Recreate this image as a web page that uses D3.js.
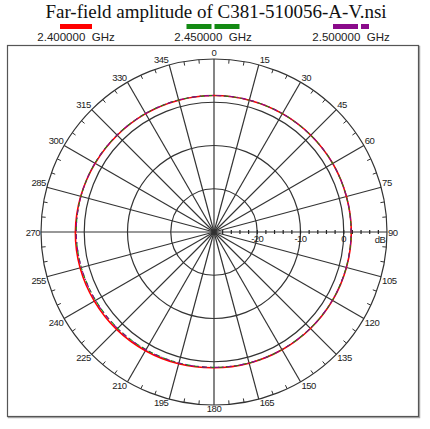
<!DOCTYPE html>
<html>
<head>
<meta charset="utf-8">
<script src="https://cdn.jsdelivr.net/npm/d3@7"></script>
<style>
  body { margin: 0; background: #fff; }
  svg { display: block; }
</style>
</head>
<body>
<div id="chart"></div>
<script>
// Data (dB, every 15 degrees)
const angles = [0, 15, 30, 45, 60, 75, 90, 105, 120, 135, 150, 165, 180, 195, 210, 225, 240, 255, 270, 285, 300, 315, 330, 345];
const freqLabels = ["2.400000  GHz", "2.450000  GHz", "2.500000  GHz"];
const gain2400 = [1.55, 1.55, 1.6, 1.65, 1.7, 1.7, 1.75, 1.7, 1.65, 1.55, 1.45, 1.4, 1.4, 1.55, 1.7, 1.85, 1.95, 2.05, 2.05, 1.9, 1.75, 1.65, 1.6, 1.55];
const gain2450 = [1.55, 1.55, 1.6, 1.65, 1.7, 1.7, 1.7, 1.65, 1.6, 1.5, 1.4, 1.35, 1.3, 1.35, 1.4, 1.5, 1.6, 1.75, 1.85, 1.85, 1.8, 1.7, 1.65, 1.6];
const gain2500 = [1.55, 1.6, 1.6, 1.65, 1.7, 1.7, 1.7, 1.65, 1.6, 1.5, 1.4, 1.35, 1.3, 1.35, 1.45, 1.55, 1.65, 1.75, 1.85, 1.85, 1.8, 1.7, 1.65, 1.6];
const dbTicks = [-20, -10, 0];
const dbCircles = [-20, -10, 0, 10];

const series = [
    { label: freqLabels[0], values: gain2400, color: "#ff0000", dash: null, legendDash: null, w: 1.6 },
    { label: freqLabels[1], values: gain2450, color: "#138a13", dash: "5,3", legendDash: "25,3", w: 1.1 },
    { label: freqLabels[2], values: gain2500, color: "#8a0a8a", dash: "5,3,1.5,3", legendDash: "25,3,8,3", w: 1.1 }
];

const width = 430, height = 429;
const cx = 214, cy = 232, R = 173;

const svg = d3.select("#chart")
    .append("svg")
    .attr("width", width)
    .attr("height", height);

// radial scale: -30 dB at centre, +10 dB at outer ring
const r = d3.scaleLinear().domain([-30, 10]).range([0, R]);
const rad = a => a * Math.PI / 180;

// frame with a little shadow
svg.append("rect")
    .attr("x", 8.5).attr("y", 46.5)
    .attr("width", 411).attr("height", 371)
    .attr("fill", "none").attr("stroke", "#aaa").attr("stroke-width", 1.5);
svg.append("rect")
    .attr("x", 7.5).attr("y", 45.5)
    .attr("width", 411).attr("height", 371)
    .attr("fill", "#fff").attr("stroke", "#555").attr("stroke-width", 1.2);

// title
svg.append("text")
    .attr("x", 216).attr("y", 18)
    .attr("text-anchor", "middle")
    .style("font-family", "'Liberation Serif', 'Times New Roman', serif")
    .style("font-size", "19px")
    .style("fill", "#111")
    .text("Far-field amplitude of C381-510056-A-V.nsi");

// legend
const legendX = [76, 213, 351];
const legend = svg.selectAll(".legend")
    .data(series)
    .join("g")
    .attr("class", "legend")
    .attr("transform", (d, i) => `translate(${legendX[i]},0)`);

const legendW = [32, 53, 36];
legend.append("line")
    .attr("x1", (d, i) => -legendW[i] / 2)
    .attr("x2", (d, i) => legendW[i] / 2)
    .attr("y1", 26.5).attr("y2", 26.5)
    .attr("stroke", d => d.color)
    .attr("stroke-width", 5)
    .attr("stroke-dasharray", d => d.legendDash);

legend.append("text")
    .attr("y", 41)
    .attr("text-anchor", "middle")
    .attr("xml:space", "preserve")
    .style("white-space", "pre")
    .style("font-family", "'Liberation Sans', Arial, sans-serif")
    .style("font-size", "11.5px")
    .style("fill", "#222")
    .text(d => d.label);

const g = svg.append("g").attr("transform", `translate(${cx},${cy})`);
const gridColor = "#333";

// rings
g.selectAll(".ring")
    .data(dbCircles)
    .join("circle")
    .attr("class", "ring")
    .attr("r", d => r(d))
    .attr("fill", "none")
    .attr("stroke", gridColor)
    .attr("stroke-width", 1.2);

// spokes every 15 degrees
const spokeAngles = d3.range(0, 360, 15);
g.selectAll(".spoke")
    .data(spokeAngles)
    .join("line")
    .attr("class", "spoke")
    .attr("x1", 0).attr("y1", 0)
    .attr("x2", d => R * Math.sin(rad(d)))
    .attr("y2", d => -R * Math.cos(rad(d)))
    .attr("stroke", gridColor)
    .attr("stroke-width", 1.2);

// minor ticks every 5 degrees on the outer ring
const minorAngles = d3.range(0, 360, 5).filter(a => a % 15 !== 0);
g.selectAll(".minor")
    .data(minorAngles)
    .join("line")
    .attr("class", "minor")
    .attr("x1", d => R * Math.sin(rad(d)))
    .attr("y1", d => -R * Math.cos(rad(d)))
    .attr("x2", d => (R - 4) * Math.sin(rad(d)))
    .attr("y2", d => -(R - 4) * Math.cos(rad(d)))
    .attr("stroke", gridColor)
    .attr("stroke-width", 1);

// ticks along the dB axis every 2 dB
g.selectAll(".dbtick")
    .data(d3.range(-28, 10, 2))
    .join("line")
    .attr("class", "dbtick")
    .attr("x1", d => r(d)).attr("x2", d => r(d))
    .attr("y1", -2).attr("y2", 2)
    .attr("stroke", "#222")
    .attr("stroke-width", 1.2);

const labelFont = "'Liberation Sans', Arial, sans-serif";

// angle labels
g.selectAll(".alabel")
    .data(spokeAngles)
    .join("text")
    .attr("class", "alabel")
    .attr("x", d => {
        const x = R * Math.sin(rad(d));
        if (d === 0 || d === 180) return x;
        return d < 180 ? x + 1 : x - 1;
    })
    .attr("y", d => {
        const y = -R * Math.cos(rad(d));
        if (d === 0) return y - 3;
        if (d === 180) return y + 7;
        if (d === 90 || d === 270) return y + 3.5;
        return (d < 90 || d > 270) ? y - 1.5 : y + 7;
    })
    .attr("text-anchor", d => (d === 0 || d === 180) ? "middle" : (d < 180 ? "start" : "end"))
    .style("font-family", labelFont)
    .style("font-size", "9.5px")
    .style("letter-spacing", "-0.5px")
    .style("fill", "#222")
    .text(d => d);

// dB labels
g.selectAll(".dblabel")
    .data(dbTicks)
    .join("text")
    .attr("class", "dblabel")
    .attr("x", d => r(d))
    .attr("y", 10)
    .attr("text-anchor", "middle")
    .style("font-family", labelFont)
    .style("font-size", "9.5px")
    .style("letter-spacing", "-0.5px")
    .style("fill", "#222")
    .text(d => d);

g.append("text")
    .attr("x", 166).attr("y", 11)
    .attr("text-anchor", "middle")
    .style("font-family", labelFont)
    .style("font-size", "9.5px")
    .style("letter-spacing", "-0.5px")
    .style("fill", "#222")
    .text("dB");

// traces
const line = d3.lineRadial()
    .angle(d => rad(d[0]))
    .radius(d => r(d[1]))
    .curve(d3.curveCatmullRomClosed);

g.selectAll(".trace")
    .data(series)
    .join("path")
    .attr("class", "trace")
    .attr("d", d => line(angles.map((a, i) => [a, d.values[i]])))
    .attr("fill", "none")
    .attr("stroke", d => d.color)
    .attr("stroke-width", d => d.w)
    .attr("stroke-dasharray", d => d.dash);
</script>
</body>
</html>
